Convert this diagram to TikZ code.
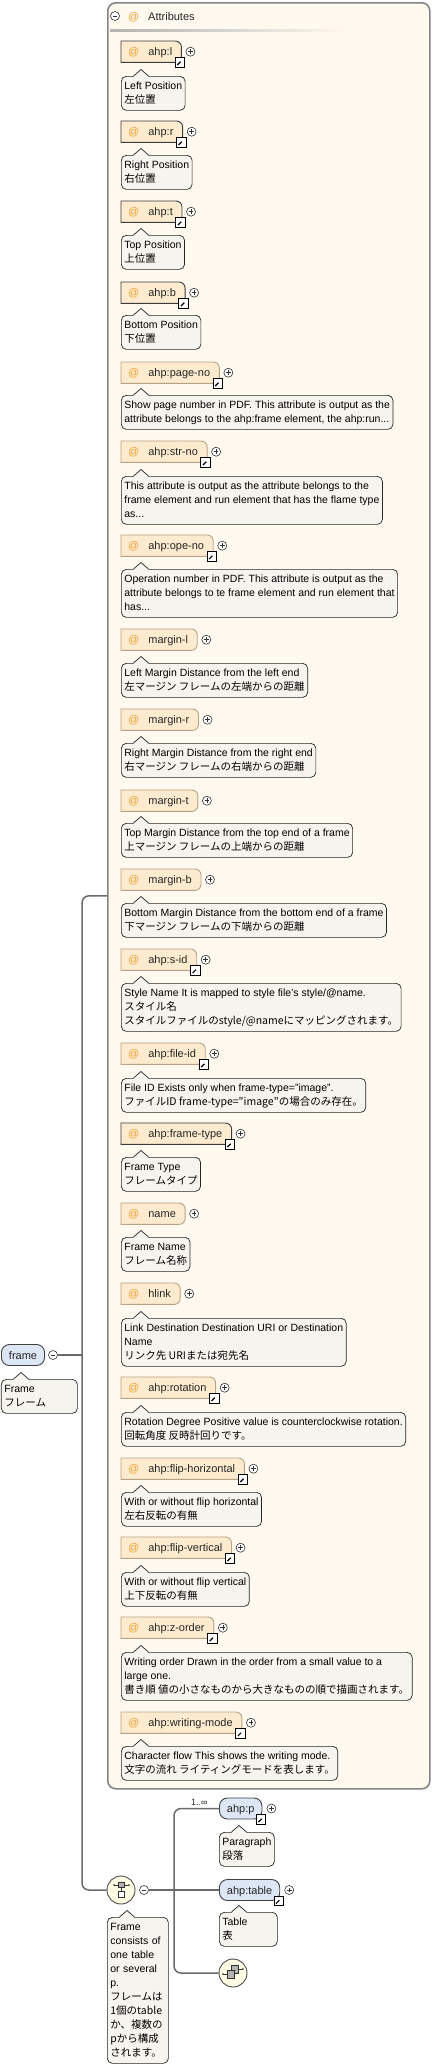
\documentclass[tikz,border=0pt]{standalone}
\usepackage{fontspec}
\setmainfont{Liberation Sans}
\newfontfamily\jp{Noto Sans CJK JP}
\usetikzlibrary{calc,shapes.misc}
\pgfdeclarelayer{panel}
\pgfdeclarelayer{boxbg}
\pgfsetlayers{panel,boxbg,main}
\definecolor{panelfill}{HTML}{FFF9EF}
\definecolor{panelline}{HTML}{858585}
\definecolor{attrfill}{HTML}{FDEBCF}
\definecolor{attrdark}{HTML}{3C3C3C}
\definecolor{attrlight}{HTML}{B8A282}
\definecolor{atc}{HTML}{F0A030}
\definecolor{annfill}{HTML}{F6F4EE}
\definecolor{annline}{HTML}{262626}
\definecolor{elemfill}{HTML}{DCE6F5}
\definecolor{compfill}{HTML}{FFFDE3}
\definecolor{connc}{HTML}{6A6A6A}
\newcommand\lblfont{\fontsize{11}{13}\selectfont}
\newcommand\annfont{\fontsize{10.5}{14}\selectfont}
\newcommand\en[1]{\strut#1}
\newcommand\ja[1]{{\jp\strut#1}}
\tikzset{
  plusnode/.style={circle, draw=black!80, fill=white, line width=0.6pt, minimum size=9pt, inner sep=0pt,
    path picture={\draw[line width=0.6pt] (path picture bounding box.center) ++(-2.4pt,0pt) -- ++(4.8pt,0pt) (path picture bounding box.center) ++(0pt,-2.4pt) -- ++(0pt,4.8pt);}},
  minusnode/.style={circle, draw=black!80, fill=white, line width=0.6pt, minimum size=9pt, inner sep=0pt,
    path picture={\draw[line width=0.6pt] (path picture bounding box.center) ++(-2.4pt,0pt) -- ++(4.8pt,0pt);}},
  shortcut/.style={draw=black, fill=white, line width=0.7pt, minimum size=9.5pt, inner sep=0pt,
    path picture={\draw[line width=1.2pt] (path picture bounding box.center) ++(-2.6pt,-2.6pt) -- ++(3.6pt,3.6pt);
      \fill (path picture bounding box.center) ++(3.2pt,3.2pt) -- ++(-4.8pt,0pt) -- ++(4.8pt,-4.8pt) -- cycle;}},
  attrlbl/.style={inner sep=0pt, minimum height=21pt, text height=9.5pt, text depth=1.5pt, font=\lblfont, text=black!85},
  ann/.style={draw=annline, fill=annfill, line width=0.7pt, rounded corners=5pt, inner xsep=3pt, inner ysep=3pt, align=left, font=\annfont, anchor=north west},
  elem/.style={draw=black!75, fill=elemfill, line width=0.9pt, rounded corners=8pt, minimum height=21pt, inner xsep=7.5pt, inner ysep=0pt, text height=9.5pt, text depth=1.5pt, font=\lblfont, text=black!85},
  comp/.style={circle, draw=black!70, fill=compfill, line width=0.9pt, minimum size=28pt, inner sep=0pt},
  conn/.style={draw=connc, line width=1.5pt, rounded corners=7pt},
}
\newcommand\pointer[1]{%
  \fill[annfill] ([xshift=12.5pt,yshift=-0.8pt]#1.north west) -- ([xshift=20pt,yshift=6.5pt]#1.north west) -- ([xshift=27.5pt,yshift=-0.8pt]#1.north west) -- cycle;
  \draw[annline, line width=0.7pt] ([xshift=12.5pt]#1.north west) -- ([xshift=20pt,yshift=6.5pt]#1.north west) -- ([xshift=27.5pt]#1.north west);
}
\newcommand\attr[7]{%
  \node[attrlbl, anchor=north west] (#1) at (121,#2) {\hspace*{7pt}\textcolor{atc}{@}\hspace*{9pt}#3\hspace*{9pt}};
  \begin{pgfonlayer}{boxbg}
    \path[fill=attrfill, draw=#4, line width=0.9pt] (#1.south west) -- (#1.north west) -- ([xshift=-6pt]#1.north east) arc[start angle=90,end angle=0,radius=6pt] -- ([yshift=6pt]#1.south east) arc[start angle=0,end angle=-90,radius=6pt] -- cycle;
  \end{pgfonlayer}
  \node[plusnode] (#1p) at ([xshift=9pt]#1.east) {};
  \ifnum#5=1 \node[shortcut] (#1i) at ([xshift=-1.5pt]#1.south east) {};\fi
  \node[ann] (#1a) at (121,#6) {#7};
  \pointer{#1a}%
}
\begin{document}
\begin{tikzpicture}[x=1pt,y=-1pt]
\begin{pgfonlayer}{panel}
  \path[fill=white, use as bounding box] (0,0) rectangle (447,2067);
  \node[draw=panelline, fill=panelfill, line width=1.6pt, rounded corners=8pt, minimum width=322pt, minimum height=1786pt, anchor=north west, inner sep=0pt] (attrs) at (107,2) {};
\end{pgfonlayer}
% header
\node[minusnode] (attrm) at (115,16) {};
\node[font=\lblfont, text=atc, anchor=base west, inner sep=0pt] (attrat) at (128,20) {@};
\node[font=\lblfont, text=black!85, anchor=base west, inner sep=0pt] (attrtitle) at (148,20) {Attributes};
\shade[left color=gray!60, right color=panelfill] (110,29.5) rectangle (350,31);
% attributes
\attr{attrl}{41}{ahp:l}{attrdark}{1}{76}{\en{Left Position}\\\ja{左位置}}
\attr{attrr}{121}{ahp:r}{attrdark}{1}{155}{\en{Right Position}\\\ja{右位置}}
\attr{attrt}{201}{ahp:t}{attrdark}{1}{235}{\en{Top Position}\\\ja{上位置}}
\attr{attrb}{282}{ahp:b}{attrdark}{1}{315}{\en{Bottom Position}\\\ja{下位置}}
\attr{attrpage}{362}{ahp:page-no}{attrlight}{1}{395}{\en{Show page number in PDF. This attribute is output as the}\\\en{attribute belongs to the ahp:frame element, the ahp:run...}}
\attr{attrstr}{441}{ahp:str-no}{attrlight}{1}{476}{\en{This attribute is output as the attribute belongs to the}\\\en{frame element and run element that has the flame type}\\\en{as...}}
\attr{attrope}{535}{ahp:ope-no}{attrlight}{1}{569}{\en{Operation number in PDF. This attribute is output as the}\\\en{attribute belongs to te frame element and run element that}\\\en{has...}}
\attr{attrml}{629}{margin-l}{attrlight}{0}{663}{\en{Left Margin Distance from the left end}\\\ja{左マージン フレームの左端からの距離}}
\attr{attrmr}{709}{margin-r}{attrlight}{0}{743}{\en{Right Margin Distance from the right end}\\\ja{右マージン フレームの右端からの距離}}
\attr{attrmt}{790}{margin-t}{attrlight}{0}{823}{\en{Top Margin Distance from the top end of a frame}\\\ja{上マージン フレームの上端からの距離}}
\attr{attrmb}{869}{margin-b}{attrlight}{0}{903}{\en{Bottom Margin Distance from the bottom end of a frame}\\\ja{下マージン フレームの下端からの距離}}
\attr{attrsid}{949}{ahp:s-id}{attrlight}{1}{983}{\en{Style Name It is mapped to style file's style/@name.}\\\ja{スタイル名}\\\ja{スタイルファイルのstyle/@nameにマッピングされます。}}
\attr{attrfile}{1043}{ahp:file-id}{attrlight}{1}{1078}{\en{File ID Exists only when frame-type="image".}\\\ja{ファイルID frame-type="image"の場合のみ存在。}}
\attr{attrftype}{1123}{ahp:frame-type}{attrdark}{1}{1157}{\en{Frame Type}\\\ja{フレームタイプ}}
\attr{attrname}{1203}{name}{attrlight}{0}{1237}{\en{Frame Name}\\\ja{フレーム名称}}
\attr{attrhlink}{1283}{hlink}{attrlight}{0}{1318}{\en{Link Destination Destination URI or Destination}\\\en{Name}\\\ja{リンク先 URIまたは宛先名}}
\attr{attrrot}{1377}{ahp:rotation}{attrlight}{1}{1412}{\en{Rotation Degree Positive value is counterclockwise rotation.}\\\ja{回転角度 反時計回りです。}}
\attr{attrfh}{1458}{ahp:flip-horizontal}{attrlight}{1}{1492}{\en{With or without flip horizontal}\\\ja{左右反転の有無}}
\attr{attrfv}{1537}{ahp:flip-vertical}{attrlight}{1}{1572}{\en{With or without flip vertical}\\\ja{上下反転の有無}}
\attr{attrz}{1617}{ahp:z-order}{attrlight}{1}{1652}{\en{Writing order Drawn in the order from a small value to a}\\\en{large one.}\\\ja{書き順 値の小さなものから大きなものの順で描画されます。}}
\attr{attrwm}{1712}{ahp:writing-mode}{attrlight}{1}{1746}{\en{Character flow This shows the writing mode.}\\\ja{文字の流れ ライティングモードを表します。}}
% frame element
\node[elem, anchor=west] (frame) at (1,1355) {frame};
\node[minusnode] (framem) at (53,1355) {};
\node[ann, text width=70pt] (framea) at (1,1379) {\en{Frame}\\\ja{フレーム}};
\pointer{framea}
\coordinate (bus) at (82,1355);
% sequence
\node[comp] (seq) at (121,1890) {};
\node[minusnode] (seqm) at (144,1890) {};
\node[ann, text width=55pt] (seqa) at (107,1917) {\en{Frame}\\\en{consists of}\\\en{one table}\\\en{or several}\\\en{p.}\\\ja{フレームは}\\\ja{1個のtable}\\\ja{か、複数の}\\\ja{pから構成}\\\ja{されます。}};
\pointer{seqa}
\coordinate (bus2) at (174,1890);
% children
\node[elem, anchor=west] (ahpp) at (219,1808.5) {ahp:p};
\node[plusnode] (ahppp) at ([xshift=9pt]ahpp.east) {};
\node[shortcut] (ahppi) at ([xshift=-1.5pt]ahpp.south east) {};
\node[ann] (ahppa) at (219,1832) {\en{Paragraph}\\\ja{段落}};
\pointer{ahppa}
\node[font=\fontsize{9}{10}\selectfont, anchor=base west, inner sep=0pt, text=black!85] (card) at (191,1805) {1..∞};
\node[elem, anchor=west] (ahptable) at (219,1890) {ahp:table};
\node[plusnode] (ahptablep) at ([xshift=9pt]ahptable.east) {};
\node[shortcut] (ahptablei) at ([xshift=-1.5pt]ahptable.south east) {};
\node[ann, text width=52pt] (ahptablea) at (219,1912) {\en{Table}\\\ja{表}};
\pointer{ahptablea}
\node[comp] (choice) at (233,1973) {};
% connectors
\draw[conn] (framem.east) -- (bus);
\draw[conn] (bus) |- (attrs.west);
\draw[conn] (bus) |- (seq.west);
\draw[conn, line width=2.2pt] (seqm.east) -- (bus2);
\draw[conn] (bus2) |- (ahpp.west);
\draw[conn] (bus2) -- (ahptable.west);
\draw[conn] (bus2) |- (choice.west);
% sequence icon
\draw[black!80, line width=0.6pt] ([xshift=-7pt,yshift=5pt]seq.center) -- ([xshift=8pt,yshift=5pt]seq.center);
\fill[black!80] ([xshift=-7pt,yshift=5pt]seq.center) circle (0.9pt) ([xshift=8pt,yshift=5pt]seq.center) circle (0.9pt);
\draw[black!80, line width=0.6pt] ([yshift=2.5pt]seq.center) -- ([yshift=-1pt]seq.center);
\filldraw[fill=gray!60, draw=black!80, line width=0.6pt] ([xshift=-3pt,yshift=2.5pt]seq.center) rectangle ([xshift=3pt,yshift=7.5pt]seq.center);
\filldraw[fill=white, draw=black!80, line width=0.6pt] ([xshift=-3pt,yshift=-1pt]seq.center) rectangle ([xshift=3pt,yshift=-7pt]seq.center);
% choice icon
\draw[black!80, line width=0.6pt] ([xshift=-10pt,yshift=-1pt]choice.center) -- ([xshift=-5pt,yshift=-1pt]choice.center);
\draw[black!80, line width=0.6pt] ([xshift=4pt,yshift=4pt]choice.center) -- ([xshift=10pt,yshift=4pt]choice.center);
\fill[black!80] ([xshift=-10pt,yshift=-1pt]choice.center) circle (0.9pt) ([xshift=10pt,yshift=4pt]choice.center) circle (0.9pt);
\filldraw[fill=gray!60, draw=black!80, line width=0.6pt] ([xshift=-2pt,yshift=0pt]choice.center) rectangle ([xshift=5pt,yshift=8pt]choice.center);
\filldraw[fill=gray!60, draw=black!80, line width=0.6pt] ([xshift=-6pt,yshift=-5pt]choice.center) rectangle ([xshift=1pt,yshift=3pt]choice.center);
\end{tikzpicture}
\end{document}
